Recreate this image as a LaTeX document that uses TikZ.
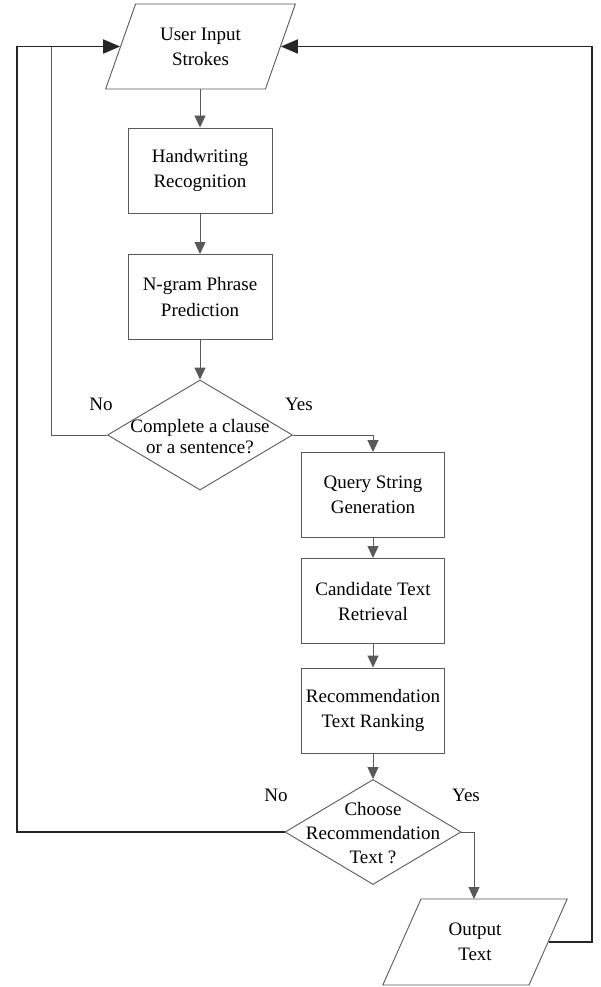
\documentclass[tikz,border=0pt]{standalone}
\usepackage{fontspec}
\setmainfont{Liberation Serif}
\usetikzlibrary{shapes.geometric,arrows.meta}
\begin{document}
\begin{tikzpicture}[x=1pt,y=-1pt,
  txtfont/.style={font=\fontsize{19}{25}\selectfont, text=black},
  box/.style={draw=black!65, line width=0.9pt, minimum width=144pt, minimum height=85pt, inner sep=0pt, align=center, txtfont},
  io/.style={trapezium, trapezium left angle=63.7, trapezium right angle=116.3, trapezium stretches=true, draw=black!65, line width=0.9pt, minimum width=190pt, minimum height=85pt, inner sep=0pt, align=center, txtfont},
  dec/.style={diamond, draw=black!65, line width=0.9pt, inner sep=0pt},
  dectext/.style={align=center, inner sep=0pt, txtfont},
  lbl/.style={inner sep=0pt, txtfont},
  thinline/.style={draw=black!65, line width=0.9pt},
  thickline/.style={draw=black!85, line width=1.8pt},
  arr/.style={-{Triangle[length=12pt,width=11pt]}},
  bigarr/.style={-{Triangle[length=17pt,width=14pt]}}
]
\useasboundingbox (0,0) rectangle (600,987);

\node[io] (in) at (200.5,46.5) {User Input\\Strokes};
\node[box] (hw) at (200,170.5) {Handwriting\\Recognition};
\node[box] (ng) at (200,297) {N-gram Phrase\\Prediction};
\node[dec, minimum width=185pt, minimum height=110pt] (d1) at (200,435) {};
\node[dectext, font=\fontsize{19}{21}\selectfont] at (200,437) {Complete a clause\\or a sentence?};
\node[box, minimum width=143pt] (qs) at (373,495) {Query String\\Generation};
\node[box, minimum width=143pt] (ct) at (373,601) {Candidate Text\\Retrieval};
\node[box, minimum width=143pt] (rr) at (373,710.5) {Recommendation\\Text Ranking};
\node[dec, minimum width=176pt, minimum height=105pt] (d2) at (373,832) {};
\node[dectext, font=\fontsize{19}{24}\selectfont] at (373,833) {Choose\\Recommendation\\Text ?};
\node[io, minimum width=186pt, minimum height=86pt] (out) at (475,942) {Output\\Text};

\node[lbl] (no1) at (101,404) {No};
\node[lbl] (yes1) at (299,404) {Yes};
\node[lbl] (no2) at (276,795) {No};
\node[lbl] (yes2) at (466,795) {Yes};

\coordinate (lc) at (17,46.5);
\coordinate (ic) at (51,46.5);
\coordinate (rc) at (592,46.5);

\draw[thinline, arr] (hw.north |- in.south) -- (hw.north);
\draw[thinline, arr] (hw.south) -- (ng.north);
\draw[thinline, arr] (ng.south) -- (d1.north);
\draw[thinline, arr] (d1.east) -| (qs.north);
\draw[thinline, arr] (qs.south) -- (ct.north);
\draw[thinline, arr] (ct.south) -- (rr.north);
\draw[thinline, arr] (rr.south) -- (d2.north);
\draw[thinline, arr] (d2.east) -| (474,899);
\draw[thinline] (d1.west) -| (ic);
\draw[thickline, bigarr] (d2.west) -| (lc) -- (in.left side);
\draw[thickline, bigarr] (out.right side) -| (rc) -- (in.right side);
\end{tikzpicture}
\end{document}
